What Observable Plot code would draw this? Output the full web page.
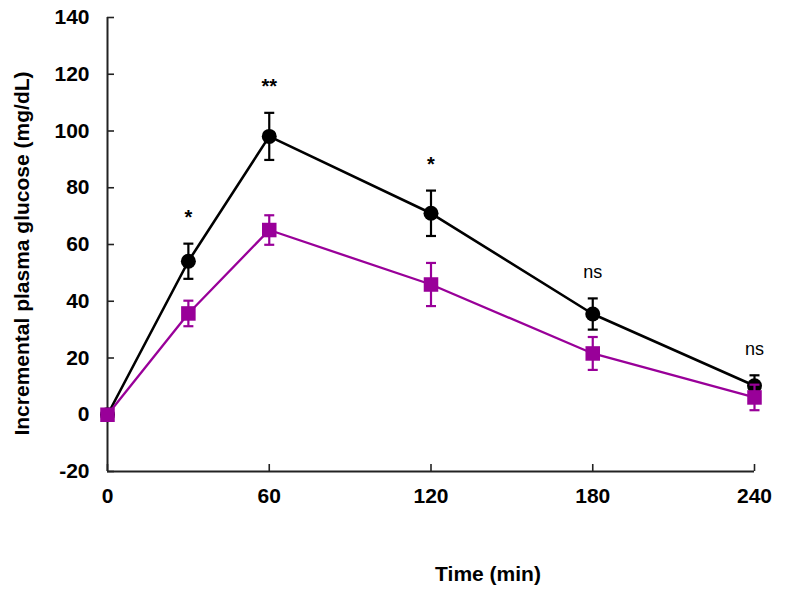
<!DOCTYPE html>
<html><head><meta charset="utf-8">
<script src="https://cdn.jsdelivr.net/npm/d3@7"></script>
<script src="https://cdn.jsdelivr.net/npm/@observablehq/plot@0.6"></script>
<style>
body{margin:0;background:#fff}
svg{font-family:"Liberation Sans", Arial, sans-serif}
</style>
</head><body><div id="chart"></div>
<script>
// ---- data ----
const times = [0, 30, 60, 120, 180, 240];
const blackMean = [0, 54.1, 98.1, 71.0, 35.5, 10.2];
const blackErr = [0, 6.2, 8.3, 8.0, 5.5, 3.7];
const purpleMean = [0, 35.7, 65.1, 45.9, 21.6, 6.1];
const purpleErr = [0, 4.5, 5.2, 7.6, 5.8, 4.5];
const significance = ["", "*", "**", "*", "ns", "ns"];
const xTicks = [0, 60, 120, 180, 240];
const yTicks = [-20, 0, 20, 40, 60, 80, 100, 120, 140];
const xTitle = "Time (min)";
const yTitle = "Incremental plasma glucose (mg/dL)";

const PURPLE = "#990099";
const W = 786, H = 590, mL = 107, mR = 32, mT = 17, mB = 119;
const plotW = W - mL - mR, plotH = H - mT - mB;

const black = times.map((t, i) => ({t, m: blackMean[i], e: blackErr[i], sig: significance[i]}));
const purple = times.map((t, i) => ({t, m: purpleMean[i], e: purpleErr[i]}));

const capSymbol = {
  draw(context, size) {
    const w = Math.sqrt(size / Math.PI);
    context.moveTo(-w, 0);
    context.lineTo(w, 0);
  }
};

function errorMarks(data, color) {
  const d = data.filter(r => r.e > 0);
  return [
    Plot.ruleX(d, {x: "t", y1: r => r.m - r.e, y2: r => r.m + r.e, stroke: color, strokeWidth: 2.2}),
    Plot.dot(d, {x: "t", y: r => r.m + r.e, symbol: capSymbol, r: 5, stroke: color, strokeWidth: 2.2, fill: "none"}),
    Plot.dot(d, {x: "t", y: r => r.m - r.e, symbol: capSymbol, r: 5, stroke: color, strokeWidth: 2.2, fill: "none"})
  ];
}

const fmt = d => String(d);

const chart = Plot.plot({
  width: W, height: H,
  marginLeft: mL, marginRight: mR, marginTop: mT, marginBottom: mB,
  style: {fontFamily: '"Liberation Sans", Arial, sans-serif', background: "#fff"},
  x: {domain: [0, 240], ticks: xTicks},
  y: {domain: [-20, 140], ticks: yTicks},
  marks: [
    Plot.axisX(xTicks, {tickSize: 0, tickPadding: 17, tickFormat: fmt, fontSize: 21, fontWeight: "bold", fill: "#000", label: null}),
    Plot.axisY(yTicks, {tickSize: 0, tickPadding: 18, tickFormat: fmt, fontSize: 21, fontWeight: "bold", fill: "#000", label: null}),
    Plot.tickY(yTicks, {y: d => d, insetRight: plotW - 7, stroke: "#222", strokeWidth: 1.6}),
    Plot.tickX(xTicks, {x: d => d, insetTop: plotH - 7, stroke: "#222", strokeWidth: 1.6}),
    Plot.ruleX([0], {stroke: "#222", strokeWidth: 2}),
    Plot.ruleY([-20], {stroke: "#222", strokeWidth: 2}),
    // black series
    Plot.line(black, {x: "t", y: "m", stroke: "#000", strokeWidth: 2.6}),
    ...errorMarks(black, "#000"),
    Plot.dot(black, {x: "t", y: "m", r: 7.5, fill: "#000", stroke: "none"}),
    // purple series
    Plot.line(purple, {x: "t", y: "m", stroke: PURPLE, strokeWidth: 2.3}),
    ...errorMarks(purple, PURPLE),
    Plot.dot(purple, {x: "t", y: "m", symbol: "square", r: 8.2, fill: PURPLE, stroke: "none"}),
    // significance labels
    Plot.text(black.filter(d => d.sig.startsWith("*")), {x: "t", y: d => d.m + d.e, text: "sig", dy: -20, lineAnchor: "bottom", fontSize: 20, fontWeight: "bold", fill: "#000"}),
    Plot.text(black.filter(d => d.sig === "ns"), {x: "t", y: d => d.m + d.e, text: "sig", dy: -20, lineAnchor: "bottom", fontSize: 18, fill: "#000"}),
    // axis titles
    Plot.text([xTitle], {frameAnchor: "bottom", text: d => d, dx: 57, dy: 109, lineAnchor: "bottom", fontSize: 21, fontWeight: "bold", fill: "#000"}),
    Plot.text([yTitle], {frameAnchor: "left", textAnchor: "middle", text: d => d, rotate: -90, dx: -85, dy: 9, fontSize: 21, fontWeight: "bold", fill: "#000"})
  ]
});
document.getElementById("chart").appendChild(chart);
</script>
</body></html>
